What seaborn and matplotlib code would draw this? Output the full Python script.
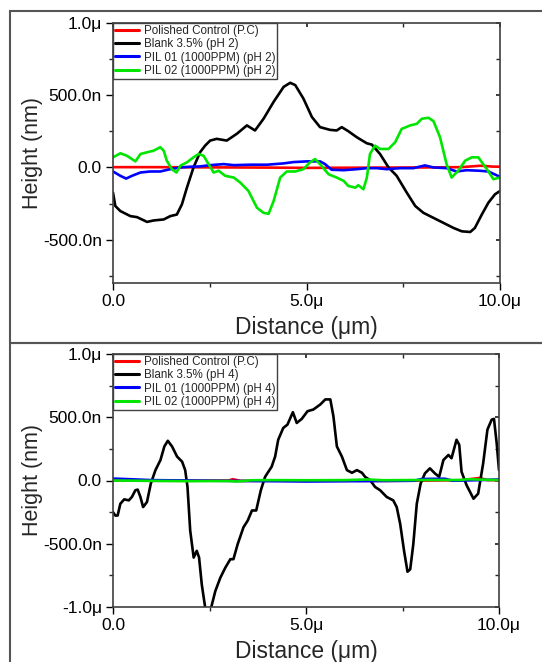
import numpy as np
import pandas as pd
import matplotlib
matplotlib.use("Agg")
import matplotlib.pyplot as plt
import seaborn as sns
from matplotlib.ticker import FuncFormatter, MultipleLocator
from matplotlib.patches import Rectangle

sns.set_theme(style="white")
plt.rcParams['font.family'] = ['Liberation Sans', 'DejaVu Sans']

# ---------------- data (x in µm, height in nm) ----------------
series_top = ["Polished Control (P.C)", "Blank 3.5% (pH 2)",
              "PIL 01 (1000PPM) (pH 2)", "PIL 02 (1000PPM) (pH 2)"]
series_bot = ["Polished Control (P.C)", "Blank 3.5% (pH 4)",
              "PIL 01 (1000PPM) (pH 4)", "PIL 02 (1000PPM) (pH 4)"]
colors = ["#ff0000", "#000000", "#0000ff", "#00e600"]

# pH 2 panel
pc2_x = [0.0, 1.0, 2.0, 3.0, 4.0, 5.0, 6.0, 7.0, 8.0, 9.0, 9.5, 9.8, 10.0]
pc2_y = [2, 2, 1, 0, -1, -3, -2, -1, 0, 2, 12, 6, 5]

blank2_x = [0.0, 0.06, 0.19, 0.45, 0.62, 0.88, 1.05, 1.31, 1.48, 1.65, 1.78, 1.91, 2.08,
            2.25, 2.38, 2.51, 2.68, 2.94, 3.2, 3.46, 3.67, 3.89, 4.15, 4.41, 4.58, 4.71,
            4.92, 5.14, 5.35, 5.61, 5.78, 5.91, 6.08, 6.3, 6.56, 6.69, 6.9, 7.12, 7.33,
            7.59, 7.81, 8.02, 8.28, 8.54, 8.8, 9.01, 9.23, 9.35, 9.53, 9.7, 9.87, 10.0]
blank2_y = [-174, -267, -302, -337, -344, -377, -367, -360, -337, -326, -256, -140, 0,
            105, 151, 186, 198, 186, 233, 291, 256, 337, 454, 558, 586, 570,
            477, 349, 279, 260, 256, 279, 251, 209, 167, 158, 93, 0, -58,
            -174, -267, -314, -349, -384, -419, -442, -447, -419, -326, -244, -186, -163]

pil01_2_x = [0.0, 0.19, 0.34, 0.49, 0.71, 0.96, 1.22, 1.48, 1.74, 2.0, 2.25, 2.51, 2.86,
             3.12, 3.55, 3.98, 4.41, 4.66, 5.01, 5.35, 5.48, 5.65, 5.96, 6.3, 6.56, 6.82,
             7.07, 7.42, 7.76, 8.06, 8.28, 8.62, 8.88, 9.14, 9.48, 9.7, 10.0]
pil01_2_y = [-28, -58, -77, -58, -35, -28, -28, -12, 0, 5, 7, 16, 23,
             16, 19, 19, 28, 37, 42, 42, 23, -16, -19, -12, -5, -5,
             -12, -5, -5, 14, 0, -5, -28, -19, -23, -28, -65]

pil02_2_x = [0.0, 0.19, 0.36, 0.58, 0.71, 0.88, 1.05, 1.22, 1.31, 1.39, 1.52, 1.64, 1.74,
             1.91, 2.08, 2.21, 2.34, 2.47, 2.6, 2.73, 2.9, 3.12, 3.29, 3.5, 3.72, 3.89,
             4.02, 4.15, 4.32, 4.49, 4.71, 4.92, 5.09, 5.22, 5.35, 5.57, 5.78, 5.96, 6.08,
             6.26, 6.34, 6.47, 6.56, 6.64, 6.77, 6.9, 7.12, 7.29, 7.46, 7.68, 7.85, 7.98,
             8.15, 8.28, 8.45, 8.62, 8.75, 8.92, 9.1, 9.27, 9.44, 9.66, 9.83, 10.0]
pil02_2_y = [70, 98, 81, 42, 93, 105, 116, 140, 116, 47, -12, -35, 12,
             35, 70, 93, 81, 23, -35, -23, -58, -70, -105, -163, -279, -314,
             -321, -233, -70, -28, -28, -12, 35, 58, 23, -47, -70, -93, -128,
             -140, -123, -151, -70, 93, 151, 128, 128, 174, 267, 291, 302, 337,
             344, 321, 209, 23, -70, -23, 47, 70, 70, -12, -81, -70]

# pH 4 panel
pc4_x = [0.0, 1.0, 2.0, 3.0, 3.1, 3.3, 4.0, 5.0, 6.0, 7.0, 8.0, 9.0, 9.5, 9.7, 10.0]
pc4_y = [0, -2, -2, 0, 10, -3, -2, 0, -1, -3, -1, 2, 20, 3, 2]

blank4_x = [0.0, 0.06, 0.12, 0.19, 0.29, 0.41, 0.49, 0.58, 0.64, 0.71, 0.78, 0.88, 0.98,
            1.1, 1.23, 1.33, 1.42, 1.53, 1.66, 1.79, 1.87, 1.93, 2.0, 2.09, 2.17, 2.23,
            2.3, 2.39, 2.45, 2.54, 2.65, 2.78, 2.91, 3.04, 3.12, 3.23, 3.38, 3.49, 3.6,
            3.71, 3.83, 3.94, 4.11, 4.2, 4.28, 4.41, 4.52, 4.66, 4.76, 4.89, 5.04, 5.19,
            5.37, 5.5, 5.63, 5.71, 5.8, 5.93, 6.06, 6.19, 6.32, 6.45, 6.53, 6.66, 6.79,
            6.92, 7.09, 7.26, 7.35, 7.44, 7.54, 7.63, 7.7, 7.78, 7.87, 7.97, 8.08, 8.21,
            8.34, 8.45, 8.56, 8.69, 8.77, 8.9, 8.97, 9.03, 9.16, 9.34, 9.46, 9.59, 9.7,
            9.81, 9.87, 9.94, 10.0]
blank4_y = [-250, -277, -277, -184, -149, -157, -130, -77, -72, -130, -210, -170, -24,
            82, 162, 269, 314, 269, 189, 149, 82, -51, -396, -609, -556, -609,
            -822, -1008, -1035, -1008, -875, -769, -689, -622, -622, -503, -370, -317, -237,
            -237, -77, 29, 109, 189, 322, 415, 442, 540, 455, 487, 548, 561,
            601, 641, 641, 508, 269, 189, 82, 61, 82, 61, 29, 3, -51,
            -77, -130, -157, -210, -343, -556, -721, -702, -503, -184, -24, 56, 96,
            56, 29, 162, 202, 176, 322, 282, 69, -37, -144, -104, 136, 402,
            481, 487, 295, 82]

pil01_4_x = [0.0, 0.3, 1.0, 2.0, 3.0, 4.0, 5.0, 6.0, 7.0, 7.8, 8.0, 8.6, 8.8, 9.5, 10.0]
pil01_4_y = [15, 12, 3, 0, -3, -5, -8, -6, -4, -2, 12, 14, -2, 3, 8]

pil02_4_x = [0.0, 1.0, 2.0, 3.0, 3.2, 3.6, 4.0, 5.0, 6.0, 6.6, 7.0, 8.0, 9.0, 9.2, 10.0]
pil02_4_y = [0, -3, -5, -4, -8, 2, 3, 2, 3, 8, 2, 4, 4, 10, 3]

# ---------------- build long tables ----------------
def long_df(names, xs, ys):
    frames = []
    for n, x, y in zip(names, xs, ys):
        frames.append(pd.DataFrame({"x": x, "y": y, "series": n}))
    return pd.concat(frames, ignore_index=True)

df_top = long_df(series_top, [pc2_x, blank2_x, pil01_2_x, pil02_2_x],
                 [pc2_y, blank2_y, pil01_2_y, pil02_2_y])
df_bot = long_df(series_bot, [pc4_x, blank4_x, pil01_4_x, pil02_4_x],
                 [pc4_y, blank4_y, pil01_4_y, pil02_4_y])

def yfmt(v, pos):
    if abs(v) < 1e-9:
        return "0.0"
    if abs(v) >= 1000:
        return f"{v/1000:.1f}\u03bc"
    return f"{v:.1f}n"

def xfmt(v, pos):
    if abs(v) < 1e-9:
        return "0.0"
    return f"{v:.1f}\u03bc"

fig = plt.figure(figsize=(5.42, 6.62), dpi=100)
W, H = 542, 662
ax1 = fig.add_axes([113 / W, 1 - 283 / H, 387 / W, 260 / H])
ax2 = fig.add_axes([113 / W, 1 - 607 / H, 386 / W, 253 / H])

edge = "#404040"
for ax, df, names, ylim in [(ax1, df_top, series_top, (-800, 1000)),
                            (ax2, df_bot, series_bot, (-1000, 1000))]:
    sns.lineplot(data=df, x="x", y="y", hue="series", hue_order=names,
                 palette=colors, estimator=None, sort=False, lw=1.9, ax=ax)
    ax.set_xlim(0, 10)
    ax.set_ylim(*ylim)
    ax.yaxis.set_major_locator(MultipleLocator(500))
    ax.yaxis.set_minor_locator(MultipleLocator(250))
    ax.xaxis.set_major_locator(MultipleLocator(5))
    ax.xaxis.set_minor_locator(MultipleLocator(2.5))
    ax.yaxis.set_major_formatter(FuncFormatter(yfmt))
    ax.xaxis.set_major_formatter(FuncFormatter(xfmt))
    ax.tick_params(which="major", direction="out", length=5, width=1, labelsize=12.5,
                   colors="black", pad=3)
    ax.tick_params(which="minor", direction="out", length=3, width=1)
    ax.tick_params(axis="both", which="both", bottom=True, left=True)
    for s in ax.spines.values():
        s.set_color(edge)
        s.set_linewidth(1.2)
    # inward mirrored ticks on top/right
    sec_x = ax.secondary_xaxis("top")
    sec_x.xaxis.set_major_locator(MultipleLocator(5))
    sec_x.xaxis.set_minor_locator(MultipleLocator(2.5))
    sec_x.tick_params(which="both", direction="in", length=3, labeltop=False)
    sec_x.spines["top"].set_visible(False)
    sec_y = ax.secondary_yaxis("right")
    sec_y.yaxis.set_major_locator(MultipleLocator(500))
    sec_y.yaxis.set_minor_locator(MultipleLocator(250))
    sec_y.tick_params(which="both", direction="in", length=3, labelright=False)
    sec_y.spines["right"].set_visible(False)

    ax.set_xlabel("Distance (\u03bcm)", fontsize=16.5, labelpad=5)
    ax.set_ylabel("Height (nm)", fontsize=15.5, labelpad=0)
    leg = ax.legend(loc="upper left", bbox_to_anchor=(0, 1), fontsize=8.4,
                    frameon=True, fancybox=False, borderaxespad=0, handlelength=2.1,
                    handletextpad=0.4, labelspacing=0.12, borderpad=0.15,
                    edgecolor=edge, framealpha=1)
    leg.get_frame().set_linewidth(1.0)
    for h in leg.get_lines():
        h.set_linewidth(2.2)

# panel frames
fig.patches.append(Rectangle((10 / W, 1 - 343 / H), 1.2, (343 - 11) / H,
                             transform=fig.transFigure, fill=False,
                             edgecolor="#555555", lw=1.5))
fig.patches.append(Rectangle((10 / W, -0.1), 1.2, 0.1 + (H - 343) / H,
                             transform=fig.transFigure, fill=False,
                             edgecolor="#555555", lw=1.5))

fig.savefig("out.png", dpi=100, facecolor="white")
